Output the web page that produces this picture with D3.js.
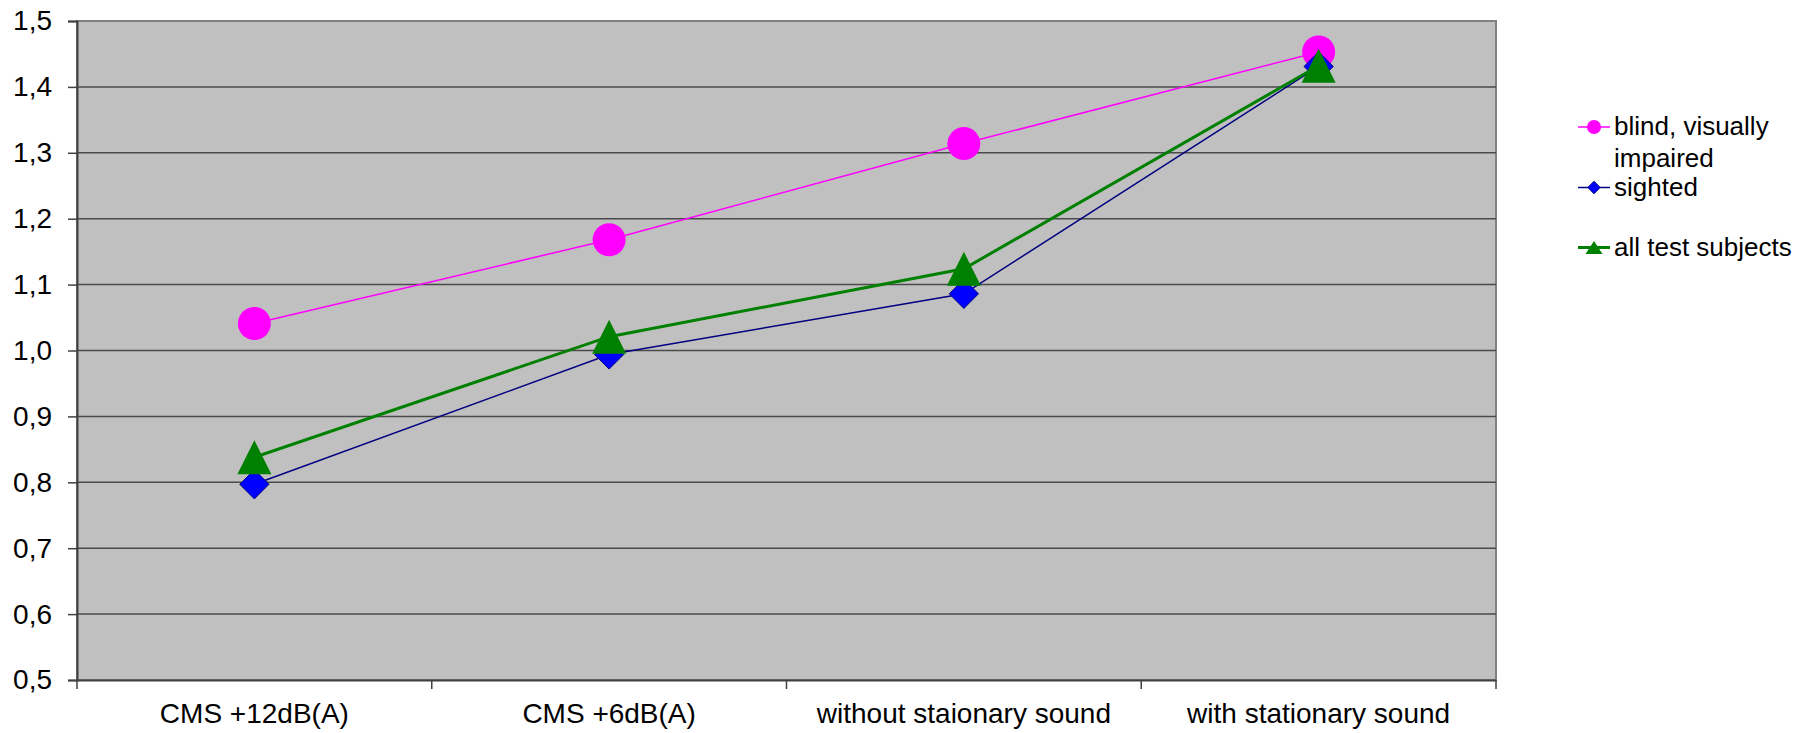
<!DOCTYPE html>
<html>
<head>
<meta charset="utf-8">
<script src="https://cdn.jsdelivr.net/npm/d3@7"></script>
<style>
  body { margin: 0; background: #fff; }
  svg { display: block; font-family: "Liberation Sans", Arial, sans-serif; }
</style>
</head>
<body>
<svg id="chart" width="1812" height="733"></svg>
<script>
// categories along the x axis
var categories = ["CMS +12dB(A)", "CMS +6dB(A)", "without staionary sound", "with stationary sound"];
// series values
var blind = [1.041, 1.168, 1.314, 1.453];
var sighted = [0.797, 0.994, 1.086, 1.431];
var allSubjects = [0.838, 1.021, 1.124, 1.432];
var yTicks = [0.5, 0.6, 0.7, 0.8, 0.9, 1.0, 1.1, 1.2, 1.3, 1.4, 1.5];
var seriesNames = ["blind, visually impaired", "sighted", "all test subjects"];

var plotL = 77, plotR = 1496, plotT = 21, plotB = 680;

var svg = d3.select("#chart");

var xScale = d3.scaleBand().domain(categories).range([plotL, plotR]).padding(0);
var yScale = d3.scaleLinear().domain([0.5, 1.5]).range([plotB, plotT]);

var fmt = function (v) { return d3.format(".1f")(v).replace(".", ","); };

// plot area
svg.append("rect")
    .attr("x", plotL).attr("y", plotT)
    .attr("width", plotR - plotL).attr("height", plotB - plotT)
    .attr("fill", "#c0c0c0")
    .attr("stroke", "#808080")
    .attr("stroke-width", 2);

// gridlines
svg.append("g")
    .selectAll("line")
    .data(yTicks.slice(1, -1))
    .enter()
    .append("line")
    .attr("x1", plotL).attr("x2", plotR)
    .attr("y1", function (d) { return yScale(d); })
    .attr("y2", function (d) { return yScale(d); })
    .attr("stroke", "#4a4a4a")
    .attr("stroke-width", 1.5);

// y axis
var yAxis = d3.axisLeft(yScale).tickValues(yTicks).tickFormat(fmt).tickSize(9).tickPadding(16);
var gy = svg.append("g").attr("transform", "translate(" + plotL + ",0)").call(yAxis);
gy.select(".domain").attr("stroke", "#404040").attr("stroke-width", 2);
gy.selectAll(".tick line").attr("stroke", "#404040").attr("stroke-width", 1.5);
gy.selectAll(".tick text")
    .attr("font-size", 28)
    .attr("font-family", "Liberation Sans, Arial, sans-serif")
    .attr("fill", "#000");

// x axis
var xAxis = d3.axisBottom(xScale).tickSize(0).tickPadding(23);
var gx = svg.append("g").attr("transform", "translate(0," + plotB + ")").call(xAxis);
gx.select(".domain").attr("stroke", "#404040").attr("stroke-width", 2);
gx.selectAll(".tick text")
    .attr("font-size", 28)
    .attr("font-family", "Liberation Sans, Arial, sans-serif")
    .attr("fill", "#000");

// category boundary ticks
var bounds = categories.map(function (c) { return xScale(c); }).concat([plotR]);
svg.append("g")
    .selectAll("line")
    .data(bounds)
    .enter()
    .append("line")
    .attr("x1", function (d) { return d; })
    .attr("x2", function (d) { return d; })
    .attr("y1", plotB).attr("y2", plotB + 9)
    .attr("stroke", "#404040")
    .attr("stroke-width", 1.5);

var cx = function (d, i) { return xScale(categories[i]) + xScale.bandwidth() / 2; };
var line = d3.line()
    .x(function (d, i) { return cx(d, i); })
    .y(function (d) { return yScale(d); });

var series = [
    { name: seriesNames[0], values: blind, line: "#ff00ff", lw: 1.5, fill: "#ff00ff", stroke: "none", shape: d3.symbolCircle, size: 855 },
    { name: seriesNames[1], values: sighted, line: "#000080", lw: 1.5, fill: "#0000ff", stroke: "#000080", shape: d3.symbolDiamond2, size: 545 },
    { name: seriesNames[2], values: allSubjects, line: "#008000", lw: 3, fill: "#008000", stroke: "none", shape: d3.symbolTriangle2, size: 0 }
];

// lines first, then markers per series
series.forEach(function (s) {
    svg.append("path")
        .datum(s.values)
        .attr("fill", "none")
        .attr("stroke", s.line)
        .attr("stroke-width", s.lw)
        .attr("d", line);
});

function trianglePath(w, h) {
    return "M0," + (-h / 2) + "L" + (w / 2) + "," + (h / 2) + "L" + (-w / 2) + "," + (h / 2) + "Z";
}

series.forEach(function (s) {
    svg.append("g")
        .selectAll("path")
        .data(s.values)
        .enter()
        .append("path")
        .attr("transform", function (d, i) { return "translate(" + cx(d, i) + "," + yScale(d) + ")"; })
        .attr("d", function () {
            if (s.size === 0) return trianglePath(34, 34);
            return d3.symbol().type(s.shape).size(s.size)();
        })
        .attr("fill", s.fill)
        .attr("stroke", s.stroke)
        .attr("stroke-width", 1);
});

// legend
var legendY = [127, 187.5, 247.5];
var leg = svg.append("g");
series.forEach(function (s, i) {
    var g = leg.append("g").attr("transform", "translate(1594," + legendY[i] + ")");
    g.append("line")
        .attr("x1", -16).attr("x2", 16)
        .attr("stroke", s.line)
        .attr("stroke-width", s.lw);
    g.append("path")
        .attr("d", function () {
            if (s.size === 0) return trianglePath(17, 13);
            return d3.symbol().type(s.shape).size(s.size / 5.5)();
        })
        .attr("fill", s.fill)
        .attr("stroke", s.stroke)
        .attr("stroke-width", 1);
});

var legendText = [["blind, visually", "impaired"], ["sighted"], ["all test subjects"]];
legendText.forEach(function (lines, i) {
    var t = leg.append("text")
        .attr("x", 1614)
        .attr("y", legendY[i] + 8)
        .attr("font-size", 26)
        .attr("fill", "#000");
    lines.forEach(function (l, j) {
        t.append("tspan").attr("x", 1614).attr("dy", j === 0 ? 0 : 32).text(l);
    });
});
</script>
</body>
</html>
